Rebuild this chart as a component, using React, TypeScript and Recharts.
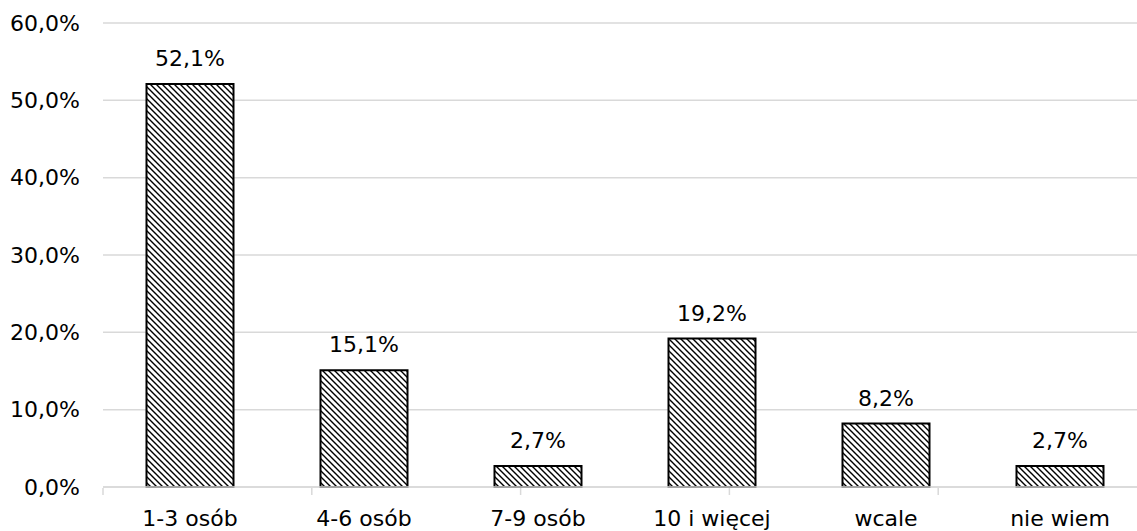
import React from 'react';
import { BarChart, Bar, XAxis, YAxis, CartesianGrid, LabelList } from 'recharts';

const categories = ['1-3 osób', '4-6 osób', '7-9 osób', '10 i więcej', 'wcale', 'nie wiem'];
const shares = [52.1, 15.1, 2.7, 19.2, 8.2, 2.7];
const yTicks = [0, 10, 20, 30, 40, 50, 60];
const boundaryTicks = [0, 1, 2, 3, 4, 5, 6];

const data = categories.map((name, i) => ({ name, value: shares[i] }));

const pct = (v: number) => `${v.toFixed(1).replace('.', ',')}%`;
const font = { fontFamily: '"DejaVu Sans", Verdana, sans-serif', fontSize: 22, fill: '#000' };

const App: React.FC = () => (
  <div style={{ position: 'absolute', left: 0, top: 0, width: 1137, height: 531, overflow: 'hidden', background: '#fff' }}>
    <BarChart
      width={1147}
      height={531}
      data={data}
      margin={{ top: 23, right: 0, bottom: 42, left: 0 }}
      barCategoryGap="25%"
    >
      <defs>
        <pattern id="hatch" width="6" height="6" patternUnits="userSpaceOnUse">
          <rect width="6" height="6" fill="#fff" />
          <path d="M-1,-1 L7,7 M-1,5 L1,7 M5,-1 L7,1" stroke="#000" strokeWidth={1.4} />
        </pattern>
      </defs>
      <CartesianGrid vertical={false} stroke="#d9d9d9" strokeWidth={1.5} />
      <XAxis
        dataKey="name"
        height={1}
        tickLine={false}
        tickSize={0}
        tickMargin={23}
        axisLine={{ stroke: '#d9d9d9', strokeWidth: 1.5 }}
        tick={font}
        interval={0}
      />
      {/* second axis only for the short marks between categories */}
      <XAxis
        xAxisId="edges"
        type="number"
        domain={[0, 6]}
        allowDataOverflow
        ticks={boundaryTicks}
        tick={() => <g />}
        tickSize={7}
        tickLine={{ stroke: '#d9d9d9', strokeWidth: 1.5 }}
        axisLine={false}
        height={1}
      />
      <YAxis
        width={103}
        domain={[0, 60]}
        ticks={yTicks}
        tickFormatter={pct}
        axisLine={false}
        tickLine={false}
        tickSize={0}
        tickMargin={23}
        tick={font}
      />
      <Bar dataKey="value" fill="url(#hatch)" stroke="#000" strokeWidth={2} isAnimationActive={false}>
        <LabelList dataKey="value" position="top" offset={18} formatter={(v: any) => pct(Number(v))} style={font} />
      </Bar>
    </BarChart>
  </div>
);

export default App;
